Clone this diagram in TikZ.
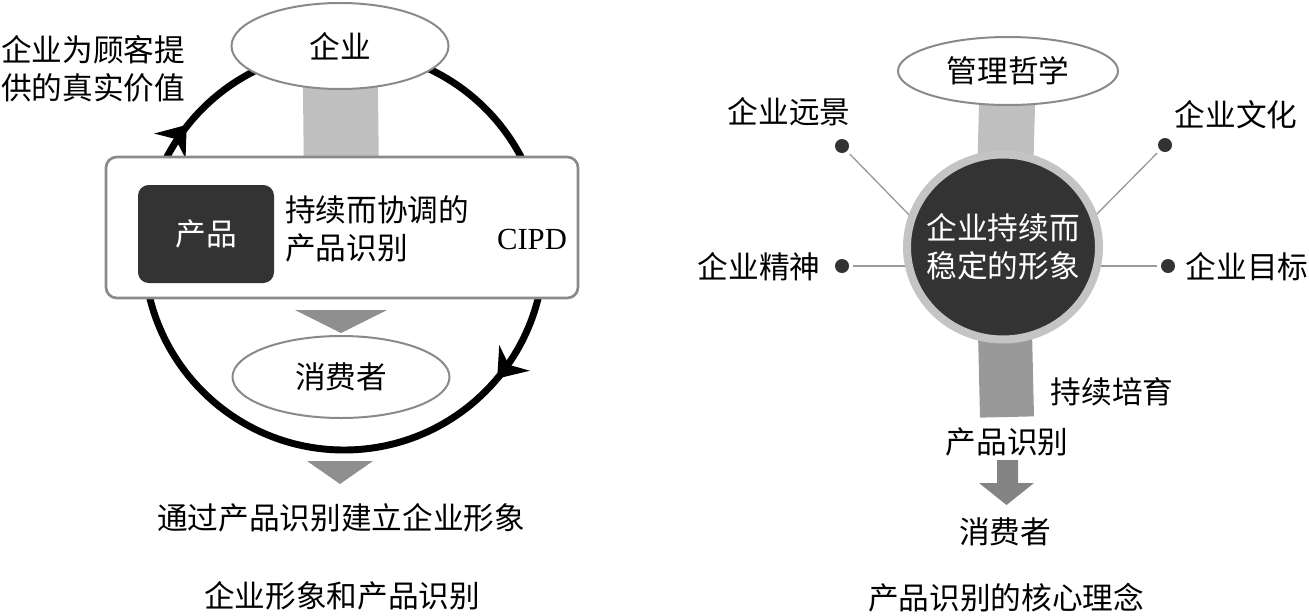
\documentclass[tikz,border=0pt]{standalone}
\usepackage{fontspec}
\setmainfont{Liberation Serif}
\newfontfamily\cjk{Noto Sans CJK SC}
\usetikzlibrary{shapes.geometric}
\pgfdeclarelayer{background}
\pgfsetlayers{background,main}
\definecolor{edgegray}{HTML}{8A8A8A}
\definecolor{darkfill}{HTML}{333333}
\definecolor{lightbar}{HTML}{BFBFBF}
\definecolor{midbar}{HTML}{999999}
\definecolor{trigray}{HTML}{8F8F8F}
\definecolor{ringgray}{HTML}{C4C4C4}
\definecolor{spokegray}{HTML}{9A9A9A}
\begin{document}
\begin{tikzpicture}[x=0.75pt,y=-0.75pt,
  txt/.style={font=\cjk\fontsize{23}{28.5}\selectfont, inner sep=0pt},
  wtxt/.style={txt, text=white},
  oval/.style={ellipse, draw=edgegray, fill=white, line width=1.5pt, inner sep=0pt, txt},
  dot/.style={circle, fill=darkfill, minimum size=10.5pt, inner sep=0pt},
  spoke/.style={draw=spokegray, line width=1pt},
  ring/.style={line width=5.2pt, black},
  tri/.style={fill=trigray}
]
\useasboundingbox (0,0) rectangle (1309,615);

% ---------------- left diagram ----------------
\coordinate (cc) at (344,250);
\node[oval, minimum width=162.75pt, minimum height=64.5pt] (qiye) at (340,46) {企业};
\node[draw=edgegray, line width=2pt, rounded corners=8pt, fill=white,
      minimum width=354pt, minimum height=105.75pt, inner sep=0pt] (box) at (342,227.5) {};
\node[fill=darkfill, rounded corners=8pt, minimum width=102pt, minimum height=73.5pt,
      wtxt] (prod) at (206,234) {产品};
\node[txt, align=left, anchor=west] (cont) at (285,229) {持续而协调的\\产品识别};
\node[font=\fontsize{23}{28}\selectfont, inner sep=0pt] (cipd) at (532,239) {CIPD};
\node[oval, minimum width=162.75pt, minimum height=61.5pt] (xfz) at (341,377) {消费者};
\node[txt, align=left, anchor=west] (value) at (1,69) {企业为顾客提\\供的真实价值};
\node[txt] (build) at (341,518) {通过产品识别建立企业形象};
\node[txt] (cap1) at (342,596) {企业形象和产品识别};

\path ([shift={(218.5:201)}]cc) coordinate (a1);
\path ([shift={(40:200)}]cc) coordinate (a2);

\begin{pgfonlayer}{background}
  \draw[ring] (cc) circle[radius=200];
  \begin{scope}[shift={(a1)}, rotate=51.5]
    \fill[black] (0,0) -- (-27,20) -- (-18,0) -- (-27,-20) -- cycle;
  \end{scope}
  \begin{scope}[shift={(a2)}, rotate=-130]
    \fill[black] (0,0) -- (-27,20) -- (-18,0) -- (-27,-20) -- cycle;
  \end{scope}
  \draw[lightbar, line width=56.25pt] (qiye.center) -- (box.center);
\end{pgfonlayer}

\fill[tri] (295,310) -- (387,310) -- (341,333) -- cycle;
\fill[tri] (307,461) -- (373,461) -- (340,484) -- cycle;

% ---------------- right diagram ----------------
\node[oval, minimum width=165pt, minimum height=51pt] (zhexue) at (1008,71) {管理哲学};
\node[ellipse, fill=darkfill, draw=ringgray, line width=6pt, minimum width=144pt,
      minimum height=138.75pt, inner sep=0pt] (core) at (1003,247) {};
\node[wtxt, align=center] (coretxt) at (core.center) {企业持续而\\稳定的形象};
\coordinate (barend) at (1007,417);

\node[dot] (d1) at (842,146) {};
\node[dot] (d2) at (1165,145) {};
\node[dot] (d3) at (842,266) {};
\node[dot] (d4) at (1168,266) {};
\coordinate (e1) at (914,220);
\coordinate (e2) at (1092,219);

\node[txt] (t1) at (789,112) {企业远景};
\node[txt] (t2) at (1236,115) {企业文化};
\node[txt] (t3) at (759,267) {企业精神};
\node[txt] (t4) at (1247,267) {企业目标};

\begin{pgfonlayer}{background}
  \draw[lightbar, line width=42pt] (zhexue.center) -- (core.center);
  \draw[midbar, line width=40.5pt] (core.center) -- (barend);
  \draw[spoke, shorten <=3pt] (d1) -- (e1);
  \draw[spoke, shorten <=3pt] (d2) -- (e2);
  \draw[spoke, shorten <=3pt] (d3) -- (d3 -| core.center);
  \draw[spoke, shorten <=3pt] (d4) -- (d4 -| core.center);
\end{pgfonlayer}

\node[txt] (grow) at (1112,392) {持续培育};
\node[txt] (pid) at (1007,442) {产品识别};
\node[txt] (cons) at (1005,532) {消费者};
\node[txt] (cap2) at (1006,598) {产品识别的核心理念};

\fill[trigray!92!black] (997,460) -- (1018,460) -- (1018,483) -- (1034,483)
  -- (1006.5,505) -- (979,483) -- (997,483) -- cycle;
\end{tikzpicture}
\end{document}
